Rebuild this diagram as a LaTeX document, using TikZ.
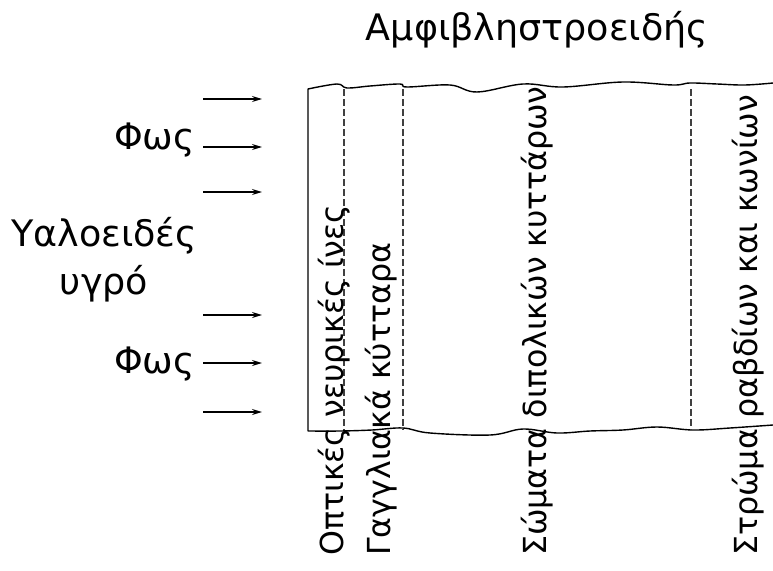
\documentclass[tikz,border=0pt]{standalone}
\usepackage{fontspec}
\setmainfont{DejaVu Sans}
\usetikzlibrary{positioning,arrows.meta}

\begin{document}
\begin{tikzpicture}[x=1pt,y=-1pt]
   \tikzstyle{ray} = [line width=1.3pt,-{Stealth[length=10pt,width=6pt]}]
   \tikzset{txt/.style = {inner sep=0pt, font=\fontsize{36.5}{48}\selectfont}, }
   \tikzset{layer/.style = {inner sep=0pt, font=\fontsize{31.7}{38}\selectfont, rotate=90, anchor=base west}, }
   \tikzset{border/.style = {line width=1.4pt, line join=round}, }
   \tikzset{sep/.style = {line width=1.1pt, black!75, dash pattern=on 7pt off 3pt}, }
   \useasboundingbox (0,0) rectangle (773,570);

   \node[txt, anchor=base] (retina) at (537,40) {Αμφιβληστροειδής};
   \node[txt, anchor=base east] (light1) at (195,149) {Φως};
   \node[txt, anchor=base east] (light2) at (195,373) {Φως};
   \node[txt, align=center, anchor=center] (vitreous) at (104,260) {Υαλοειδές\\υγρό};

   % incoming light
   \foreach \y [count=\i] in {99,147,192,315,363,412} {
     \coordinate (in\i) at (203,\y);
     \coordinate (out\i) at (262,\y);
     \draw[ray] (in\i) -- (out\i);
   }

   % retina edges
   \draw[border] plot[smooth, tension=0.6] coordinates {(773,83) (745,85) (717,84) (690,83)
       (673,85) (623,82) (563,87) (523,84) (477,92) (450,85) (407,87) (400,84)
       (370,86) (347,88) (337,84) (308,89)}
     -- plot[smooth, tension=0.6] coordinates {(308,431) (340,431) (372,430) (403,428)
       (430,433) (490,435) (523,429) (557,433) (590,431) (623,430) (657,427)
       (693,430) (730,428) (773,425)};

   % layer boundaries
   \foreach \x in {344,403,691} {
     \draw[sep] (\x,89) -- (\x,430);
   }

   \node[layer] (fibres) at (343,556) {Οπτικές νευρικές ίνες};
   \node[layer] (ganglion) at (390,556) {Γαγγλιακά κύτταρα};
   \node[layer] (bipolar) at (546,556) {Σώματα διπολικών κυττάρων};
   \node[layer] (rods) at (757,556) {Στρώμα ραβδίων και κωνίων};
\end{tikzpicture}
\end{document}
